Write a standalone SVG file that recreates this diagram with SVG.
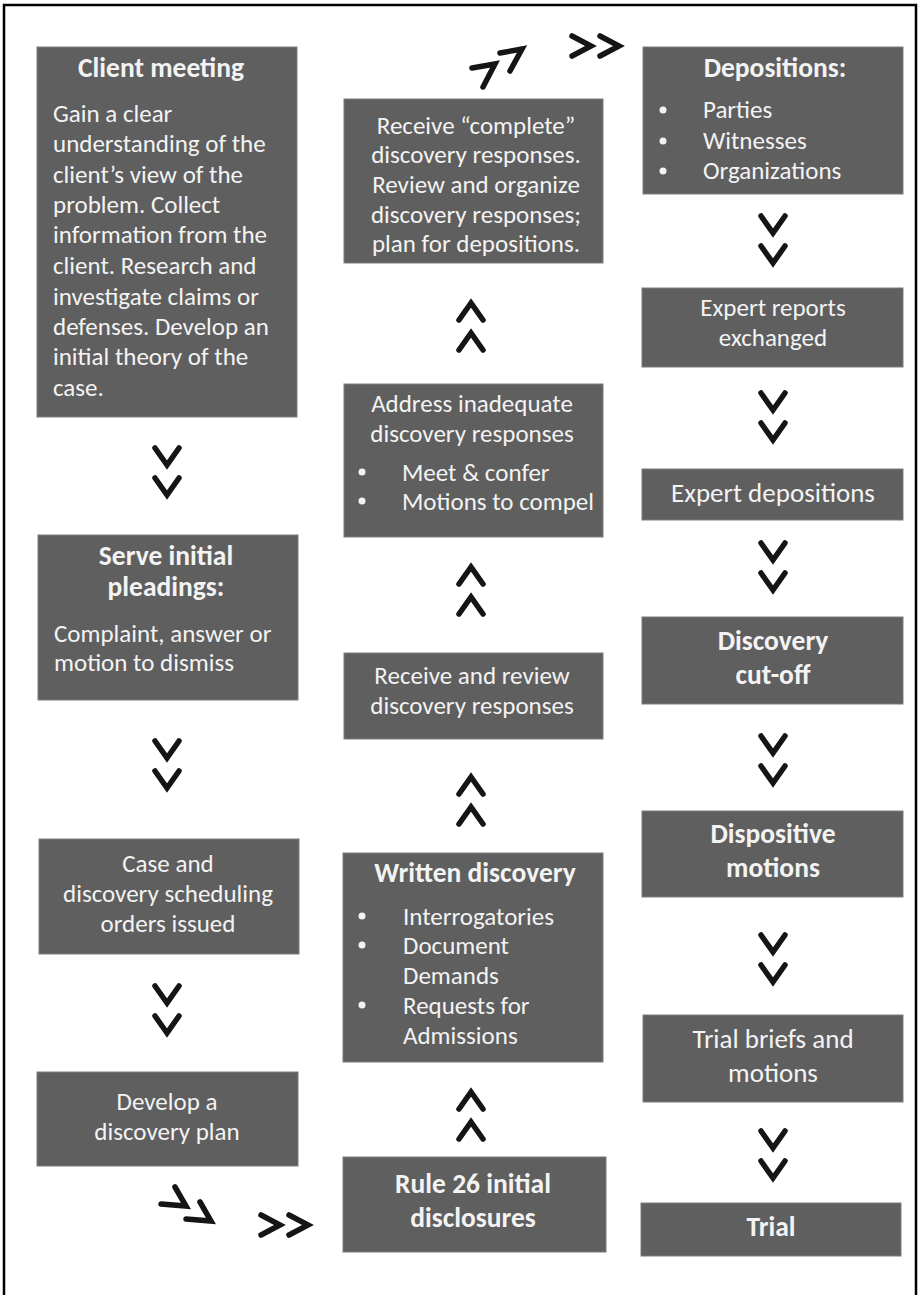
<svg xmlns="http://www.w3.org/2000/svg" width="920" height="1295" viewBox="0 0 920 1295">
<style>
.box{fill:#5f5f5f;stroke:#7c7c7c;stroke-width:1}
.t{font-family:Carlito,"Liberation Sans",Arial,sans-serif;font-size:25px;fill:#f3f3f3}
.b{font-weight:bold;font-size:27.5px}
.c{text-anchor:middle}
.l{font-size:27px}
.dot{fill:#f3f3f3}
.chev{fill:none;stroke:#151515;stroke-width:5.5;stroke-linecap:round;stroke-linejoin:miter}
</style>
<defs>
<g id="down"><polyline class="chev" points="-12,3 0,20 12,3"/><polyline class="chev" points="-12,33 0,50 12,33"/></g>
<g id="up"><polyline class="chev" points="-12,22 0,5 12,22"/><polyline class="chev" points="-12,52 0,35 12,52"/></g>
<g id="right"><polyline class="chev" points="3,3 22,13 3,23"/><polyline class="chev" points="31,3 50,13 31,23"/></g>
</defs>
<rect width="920" height="1295" fill="#ffffff"/>
<path d="M4,1295 V5 H916 V1295" fill="none" stroke="#000" stroke-width="2.5"/>

<g id="n1">
<rect class="box" x="37" y="47" width="260" height="370"/>
<text class="t b c" x="161" y="77">Client meeting</text>
<text class="t" x="53" y="122">Gain a clear</text>
<text class="t" x="53" y="152">understanding of the</text>
<text class="t" x="53" y="183">client’s view of the</text>
<text class="t" x="53" y="213">problem. Collect</text>
<text class="t" x="53" y="243">information from the</text>
<text class="t" x="53" y="274">client. Research and</text>
<text class="t" x="53" y="305">investigate claims or</text>
<text class="t" x="53" y="335">defenses. Develop an</text>
<text class="t" x="53" y="365">initial theory of the</text>
<text class="t" x="53" y="396">case.</text>
</g>

<g id="n2">
<rect class="box" x="38" y="535" width="260" height="165"/>
<text class="t b c" x="166" y="565">Serve initial</text>
<text class="t b c" x="166" y="596">pleadings:</text>
<text class="t" x="54" y="642">Complaint, answer or</text>
<text class="t" x="54" y="671">motion to dismiss</text>
</g>

<g id="n3">
<rect class="box" x="39" y="839" width="260" height="115"/>
<text class="t c" x="168" y="872">Case and</text>
<text class="t c" x="168" y="902">discovery scheduling</text>
<text class="t c" x="168" y="932">orders issued</text>
</g>

<g id="n4">
<rect class="box" x="37" y="1072" width="261" height="94"/>
<text class="t c" x="167" y="1110">Develop a</text>
<text class="t c" x="167" y="1140">discovery plan</text>
</g>

<g id="n5">
<rect class="box" x="344" y="99" width="259" height="164"/>
<text class="t c" x="476" y="134">Receive “complete”</text>
<text class="t c" x="476" y="163">discovery responses.</text>
<text class="t c" x="476" y="193">Review and organize</text>
<text class="t c" x="476" y="223">discovery responses;</text>
<text class="t c" x="476" y="252">plan for depositions.</text>
</g>

<g id="n6">
<rect class="box" x="344" y="384" width="259" height="153"/>
<text class="t c" x="472" y="412">Address inadequate</text>
<text class="t c" x="472" y="442">discovery responses</text>
<circle class="dot" cx="362" cy="472" r="3.5"/>
<text class="t" x="402" y="481">Meet &amp; confer</text>
<circle class="dot" cx="362" cy="501" r="3.5"/>
<text class="t" x="402" y="510">Motions to compel</text>
</g>

<g id="n7">
<rect class="box" x="344" y="653" width="259" height="86"/>
<text class="t c" x="472" y="684">Receive and review</text>
<text class="t c" x="472" y="714">discovery responses</text>
</g>

<g id="n8">
<rect class="box" x="343" y="853" width="260" height="209"/>
<text class="t b c" x="475" y="882">Written discovery</text>
<circle class="dot" cx="362" cy="916" r="3.5"/>
<text class="t" x="403" y="925">Interrogatories</text>
<circle class="dot" cx="362" cy="945" r="3.5"/>
<text class="t" x="403" y="954">Document</text>
<text class="t" x="403" y="984">Demands</text>
<circle class="dot" cx="362" cy="1005" r="3.5"/>
<text class="t" x="403" y="1014">Requests for</text>
<text class="t" x="403" y="1044">Admissions</text>
</g>

<g id="n9">
<rect class="box" x="343" y="1157" width="263" height="95"/>
<text class="t b c" x="473" y="1193">Rule 26 initial</text>
<text class="t b c" x="473" y="1227">disclosures</text>
</g>

<g id="n10">
<rect class="box" x="643" y="47" width="260" height="147"/>
<text class="t b c" x="775" y="77">Depositions:</text>
<circle class="dot" cx="663" cy="110" r="3.5"/>
<text class="t" x="703" y="118">Parties</text>
<circle class="dot" cx="663" cy="141" r="3.5"/>
<text class="t" x="703" y="149">Witnesses</text>
<circle class="dot" cx="663" cy="171" r="3.5"/>
<text class="t" x="703" y="179">Organizations</text>
</g>

<g id="n11">
<rect class="box" x="642" y="288" width="261" height="79"/>
<text class="t c" x="773" y="316">Expert reports</text>
<text class="t c" x="773" y="346">exchanged</text>
</g>

<g id="n12">
<rect class="box" x="642" y="469" width="261" height="51"/>
<text class="t l c" x="773" y="502">Expert depositions</text>
</g>

<g id="n13">
<rect class="box" x="642" y="617" width="261" height="87"/>
<text class="t b c" x="773" y="650">Discovery</text>
<text class="t b c" x="773" y="684">cut-off</text>
</g>

<g id="n14">
<rect class="box" x="642" y="811" width="261" height="86"/>
<text class="t b c" x="773" y="843">Dispositive</text>
<text class="t b c" x="773" y="877">motions</text>
</g>

<g id="n15">
<rect class="box" x="643" y="1015" width="260" height="87"/>
<text class="t l c" x="773" y="1048">Trial briefs and</text>
<text class="t l c" x="773" y="1082">motions</text>
</g>

<g id="n16">
<rect class="box" x="641" y="1203" width="260" height="53"/>
<text class="t b c" x="771" y="1236">Trial</text>
</g>

<g id="connectors">
<use href="#down" x="167" y="445"/>
<use href="#down" x="167" y="738"/>
<use href="#down" x="167" y="983"/>
<polyline class="chev" points="175,1187 186,1206 161,1204"/>
<polyline class="chev" points="200,1202 211,1221 186,1219"/>
<use href="#right" x="258" y="1212"/>
<use href="#up" x="471" y="1087"/>
<use href="#up" x="471" y="772"/>
<use href="#up" x="471" y="562"/>
<use href="#up" x="471" y="298"/>
<polyline class="chev" points="472,68 495,64 483,87"/>
<polyline class="chev" points="500,53 522,49 510,71"/>
<use href="#right" x="569" y="33"/>
<use href="#down" x="773" y="213"/>
<use href="#down" x="773" y="390"/>
<use href="#down" x="773" y="540"/>
<use href="#down" x="773" y="733"/>
<use href="#down" x="773" y="932"/>
<use href="#down" x="773" y="1128"/>
</g>
</svg>
